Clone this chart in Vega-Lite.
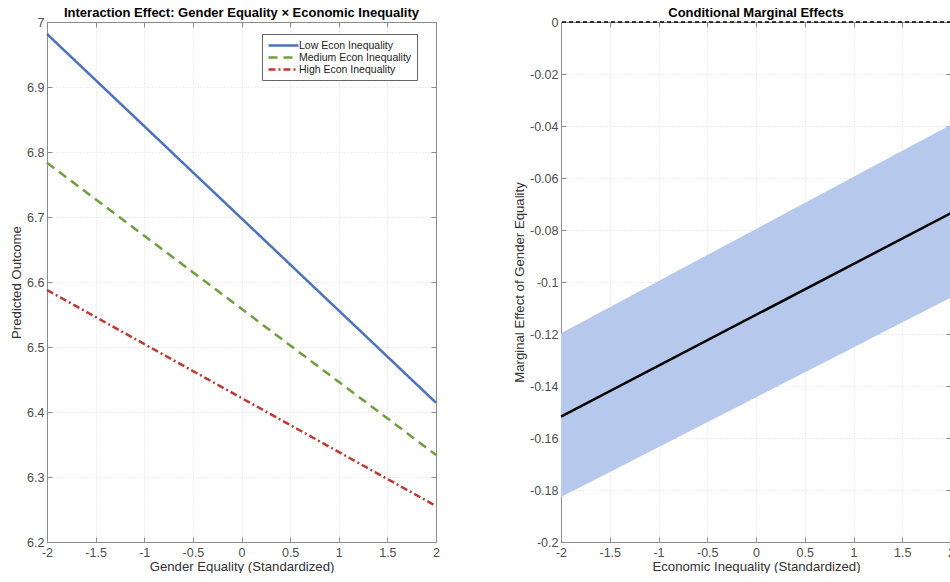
{
  "$schema": "https://vega.github.io/schema/vega-lite/v6.json",
  "padding": {"left": 9, "top": 7, "right": 0, "bottom": 0},
  "background": "white",
  "spacing": 71,
  "config": {
    "font": "Liberation Sans",
    "view": {"stroke": null},
    "axis": {
      "labelFont": "Liberation Sans",
      "labelFontSize": 12.5,
      "labelColor": "#4d4d4d",
      "titleFont": "Liberation Sans",
      "titleFontSize": 13.2,
      "titleFontWeight": "normal",
      "titleColor": "#333333",
      "domainColor": "#8c8c8c",
      "tickColor": "#8c8c8c",
      "tickSize": -5,
      "labelPadding": 9,
      "gridColor": "#dedede",
      "gridDash": [1, 2],
      "labelExpr": "'' + datum.value"
    },
    "title": {"font": "Liberation Sans", "fontSize": 13, "fontWeight": "bold", "color": "#000000", "offset": -4}
  },
  "hconcat": [
    {
      "width": 389,
      "height": 520,
      "title": "Interaction Effect: Gender Equality × Economic Inequality",
      "data": {"values": [
        {"g": -2, "level": "Low Econ Inequality", "y": 6.9815},
        {"g": 2, "level": "Low Econ Inequality", "y": 6.4143},
        {"g": -2, "level": "Medium Econ Inequality", "y": 6.7835},
        {"g": 2, "level": "Medium Econ Inequality", "y": 6.3340},
        {"g": -2, "level": "High Econ Inequality", "y": 6.5877},
        {"g": 2, "level": "High Econ Inequality", "y": 6.2554}
      ]},
      "layer": [
        {
          "mark": {"type": "line", "strokeWidth": 2.5},
          "encoding": {
            "x": {"field": "g", "type": "quantitative", "scale": {"domain": [-2, 2], "nice": false},
              "axis": {"values": [-2, -1.5, -1, -0.5, 0, 0.5, 1, 1.5, 2], "title": "Gender Equality (Standardized)", "titlePadding": 2, "grid": true, "labelFlush": false}},
            "y": {"field": "y", "type": "quantitative", "scale": {"domain": [6.2, 7], "nice": false},
              "axis": {"values": [6.2, 6.3, 6.4, 6.5, 6.6, 6.7, 6.8, 6.9, 7], "title": "Predicted Outcome", "titlePadding": 3, "labelPadding": 8, "grid": true, "labelFlush": false}},
            "color": {"field": "level", "type": "nominal",
              "scale": {"domain": ["Low Econ Inequality", "Medium Econ Inequality", "High Econ Inequality"], "range": ["#4a72bf", "#6e9e3e", "#c0392f"]},
              "legend": {"title": null, "orient": "none", "legendX": 215, "legendY": 12, "symbolType": "M-3,0L3,0", "symbolSize": 100, "symbolStrokeWidth": 2.5, "symbolOffset": 10, "labelOffset": 9, "labelFontSize": 10.5, "labelColor": "#222222", "labelFont": "Liberation Sans", "strokeColor": "#666666", "fillColor": "white", "padding": 5, "rowPadding": -2, "cornerRadius": 0}},
            "strokeDash": {"field": "level", "type": "nominal",
              "scale": {"domain": ["Low Econ Inequality", "Medium Econ Inequality", "High Econ Inequality"], "range": [[1, 0], [9, 6], [7, 3, 2, 3]]},
              "legend": null}
          }
        },
        {
          "mark": {"type": "point", "opacity": 0},
          "encoding": {
            "x": {"field": "g", "type": "quantitative", "scale": {"domain": [-2, 2], "nice": false},
              "axis": {"orient": "top", "values": [-2, -1.5, -1, -0.5, 0, 0.5, 1, 1.5, 2], "labels": false, "title": null, "grid": false, "labelPadding": 0}},
            "y": {"field": "y", "type": "quantitative", "scale": {"domain": [6.2, 7], "nice": false},
              "axis": {"orient": "right", "values": [6.2, 6.3, 6.4, 6.5, 6.6, 6.7, 6.8, 6.9, 7], "labels": false, "title": null, "grid": false, "labelPadding": 0}}
          }
        }
      ],
      "resolve": {"axis": {"x": "independent", "y": "independent"}}
    },
    {
      "width": 390,
      "height": 520,
      "title": "Conditional Marginal Effects",
      "data": {"values": [
        {"e": -2, "me": -0.1518, "lo": -0.1827, "hi": -0.1197},
        {"e": 2, "me": -0.0735, "lo": -0.1060, "hi": -0.0395}
      ]},
      "layer": [
        {
          "mark": {"type": "area", "color": "#b6c9ec", "opacity": 1},
          "encoding": {
            "x": {"field": "e", "type": "quantitative", "scale": {"domain": [-2, 2], "nice": false},
              "axis": {"values": [-2, -1.5, -1, -0.5, 0, 0.5, 1, 1.5, 2], "title": "Economic Inequality (Standardized)", "titlePadding": 2, "grid": true, "labelFlush": false}},
            "y": {"field": "lo", "type": "quantitative", "scale": {"domain": [-0.2, 0], "nice": false},
              "axis": {"values": [-0.2, -0.18, -0.16, -0.14, -0.12, -0.1, -0.08, -0.06, -0.04, -0.02, 0], "title": "Marginal Effect of Gender Equality", "titlePadding": 3, "labelPadding": 8, "grid": true, "labelFlush": false}},
            "y2": {"field": "hi"}
          }
        },
        {
          "mark": {"type": "line", "color": "#000000", "strokeWidth": 2.5},
          "encoding": {
            "x": {"field": "e", "type": "quantitative", "axis": null},
            "y": {"field": "me", "type": "quantitative", "axis": null}
          }
        },
        {
          "mark": {"type": "rule", "color": "#000000", "strokeWidth": 1, "strokeDash": [4, 3]},
          "encoding": {
            "y": {"datum": 0, "type": "quantitative", "axis": null}
          }
        },
        {
          "mark": {"type": "point", "opacity": 0},
          "encoding": {
            "x": {"field": "e", "type": "quantitative",
              "axis": {"orient": "top", "values": [-2, -1.5, -1, -0.5, 0, 0.5, 1, 1.5, 2], "labels": false, "title": null, "grid": false, "labelPadding": 0}},
            "y": {"field": "me", "type": "quantitative",
              "axis": {"orient": "right", "values": [-0.2, -0.18, -0.16, -0.14, -0.12, -0.1, -0.08, -0.06, -0.04, -0.02, 0], "labels": false, "title": null, "grid": false, "labelPadding": 0}}
          }
        }
      ],
      "resolve": {"axis": {"x": "independent", "y": "independent"}}
    }
  ]
}
